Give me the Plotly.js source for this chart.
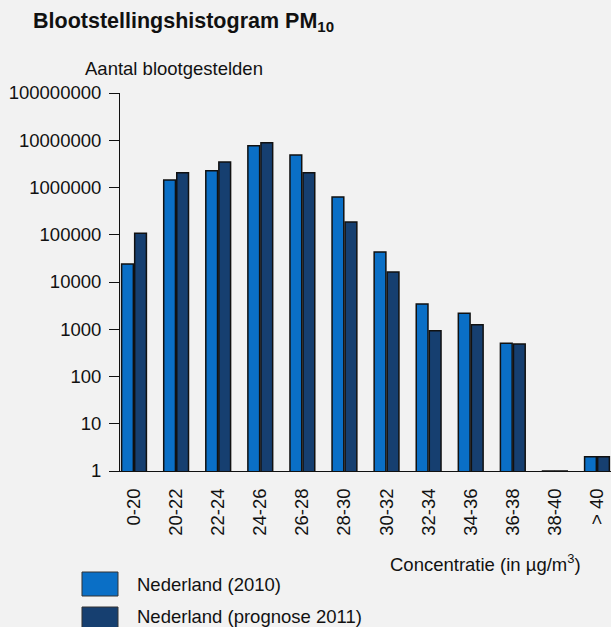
<!DOCTYPE html>
<html>
<head>
<meta charset="utf-8">
<script src="https://cdn.plot.ly/plotly-3.0.1.min.js"></script>
<style>
html,body{margin:0;padding:0;background:#f2f2f2;}
#chart{width:611px;height:627px;}
</style>
</head>
<body>
<div id="chart"></div>
<script>
// ---- data ----
const categories = ["0-20","20-22","22-24","24-26","26-28","28-30","30-32","32-34","34-36","36-38","38-40","> 40"];
const seriesNames = ["Nederland (2010)", "Nederland (prognose 2011)"];
const values2010 = [24000, 1440000, 2270000, 7670000, 4870000, 630000, 43000, 3420, 2170, 505, 1, 2];
const values2011 = [107000, 2060000, 3460000, 8900000, 2060000, 186000, 16300, 930, 1250, 488, 1, 2];
const yTickVals = [1, 10, 100, 1000, 10000, 100000, 1000000, 10000000, 100000000];
const yTickText = ["1","10","100","1000","10000","100000","1000000","10000000","100000000"];

const colors = ["#0a6fc6", "#163f70"];
const FONT = "Arial, 'Liberation Sans', sans-serif";

const traces = [
  {type:"bar", x:categories, y:values2010, name:seriesNames[0],
   marker:{color:colors[0], line:{color:"#111", width:1.5}}},
  {type:"bar", x:categories, y:values2011, name:seriesNames[1],
   marker:{color:colors[1], line:{color:"#111", width:1.5}}}
];

// legend swatches drawn as layout shapes (paper coords)
const legendY = [[-0.2672, -0.3307], [-0.3598, -0.4206]];
const shapes = seriesNames.map((n,i)=>({
  type:"rect", xref:"paper", yref:"paper",
  x0:-0.0774, x1:-0.0041, y0:legendY[i][0], y1:legendY[i][1],
  fillcolor:colors[i], line:{color:"#333", width:1}
}));
const textY = [-0.300, -0.384];
const annotations = seriesNames.map((n,i)=>({
  xref:"paper", yref:"paper", x:0.0305, y:textY[i],
  xanchor:"left", yanchor:"middle", showarrow:false, text:n,
  font:{family:FONT, size:18.5, color:"#111"}
}));
annotations.push({
  xref:"paper", yref:"paper", x:0.109, y:1.066, xanchor:"center", yanchor:"middle",
  showarrow:false, text:"Aantal blootgestelden", font:{family:FONT, size:18.5, color:"#111"}
});
annotations.push({
  xref:"paper", yref:"paper", x:0.744, y:-0.243, xanchor:"center", yanchor:"middle",
  showarrow:false, text:"Concentratie (in µg/m<sup>3</sup>)", font:{family:FONT, size:18.5, color:"#111"}
});

const layout = {
  width:611, height:627,
  paper_bgcolor:"#f2f2f2", plot_bgcolor:"#f2f2f2",
  margin:{l:120, r:0, t:93, b:156, pad:0},
  font:{family:FONT, size:18.5, color:"#111"},
  title:{text:"<b>Blootstellingshistogram PM<sub>10</sub></b>", x:33/611, xanchor:"left",
         y:1-20/627, yanchor:"middle", font:{family:FONT, size:21.5, color:"#111"}},
  showlegend:false,
  barmode:"group", bargap:0.38, bargroupgap:0.1,
  xaxis:{type:"category", range:[-0.333, 11.333], showline:true, linecolor:"#111", linewidth:1,
         ticks:"", tickangle:-90, ticklabelstandoff:9, showgrid:false, zeroline:false,
         tickfont:{family:FONT, size:18.5, color:"#111"}, fixedrange:true},
  yaxis:{type:"log", range:[0, 8], tickvals:yTickVals, ticktext:yTickText,
         showline:true, linecolor:"#111", linewidth:1, ticks:"outside", ticklen:10,
         tickcolor:"#111", tickwidth:1, showgrid:false, zeroline:false,
         tickfont:{family:FONT, size:18.5, color:"#111"}, ticklabelstandoff:4},
  shapes:shapes, annotations:annotations
};

Plotly.newPlot("chart", traces, layout, {staticPlot:true, displayModeBar:false});
</script>
</body>
</html>
